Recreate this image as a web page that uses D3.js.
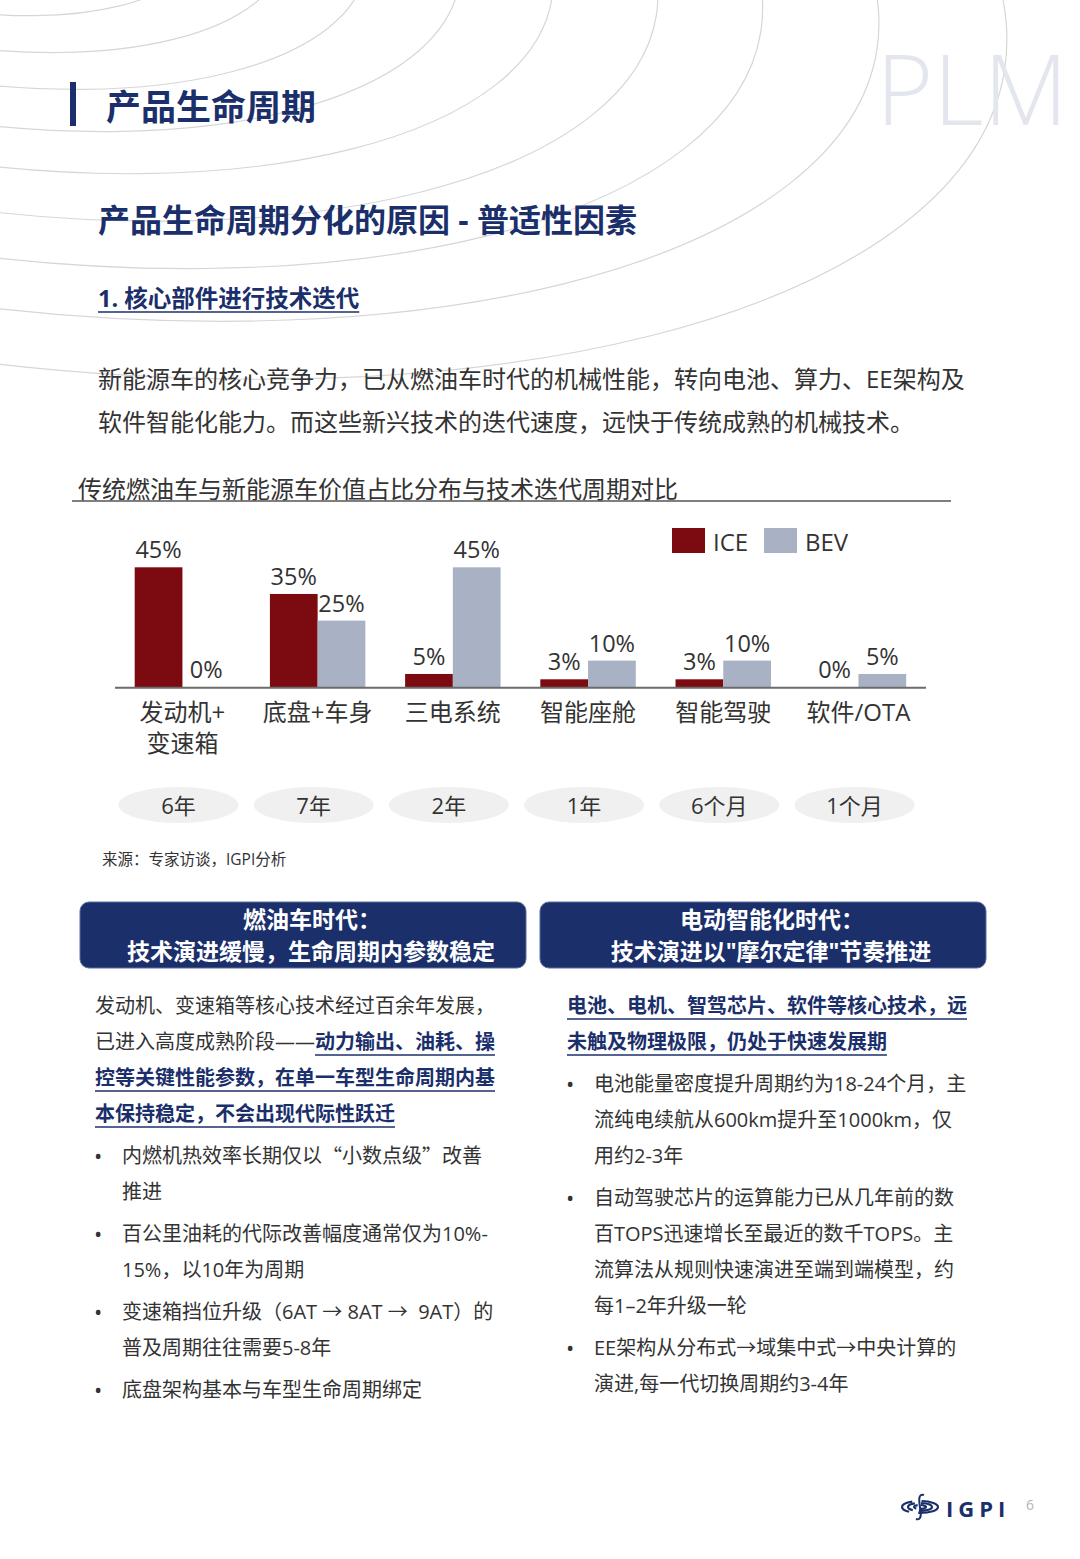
<!DOCTYPE html>
<html>
<head>
<meta charset="utf-8">
<script src="https://cdn.jsdelivr.net/npm/d3@7"></script>
<style>
  body { margin: 0; background: #fff; }
  svg { display: block; font-family: "Open Sans", "Noto Sans CJK SC", sans-serif; }
  text { white-space: pre; }
</style>
</head>
<body>
<svg id="page" width="1080" height="1559"></svg>
<script>
// ---- chart data ----
const categories = ["发动机+\n变速箱", "底盘+车身", "三电系统", "智能座舱", "智能驾驶", "软件/OTA"];
const series = ["ICE", "BEV"];
const iceValues = [45, 35, 5, 3, 3, 0];
const bevValues = [0, 25, 45, 10, 10, 5];
const cycles = ["6年", "7年", "2年", "1年", "6个月", "1个月"];

// ---- page text ----
const leftLines = [
    [["发动机、变速箱等核心技术经过百余年发展，", 0]],
    [["已进入高度成熟阶段——", 0], ["动力输出、油耗、操", 1]],
    [["控等关键性能参数，在单一车型生命周期内基", 1]],
    [["本保持稳定，不会出现代际性跃迁", 1]]
];
const leftBullets = [
    ["内燃机热效率长期仅以“小数点级”改善", "推进"],
    ["百公里油耗的代际改善幅度通常仅为10%-", "15%，以10年为周期"],
    ["变速箱挡位升级（6AT → 8AT →  9AT）的", "普及周期往往需要5-8年"],
    ["底盘架构基本与车型生命周期绑定"]
];
const rightLines = [
    [["电池、电机、智驾芯片、软件等核心技术，远", 1]],
    [["未触及物理极限，仍处于快速发展期", 1]]
];
const rightBullets = [
    ["电池能量密度提升周期约为18-24个月，主", "流纯电续航从600km提升至1000km，仅", "用约2-3年"],
    ["自动驾驶芯片的运算能力已从几年前的数", "百TOPS迅速增长至最近的数千TOPS。主", "流算法从规则快速演进至端到端模型，约", "每1–2年升级一轮"],
    ["EE架构从分布式→域集中式→中央计算的", "演进,每一代切换周期约3-4年"]
];

const navy = "#1b2f6b";
const ink = "#333";
const cjk = "'Noto Sans CJK SC', sans-serif";
const svg = d3.select("#page");

// background arcs
const arcRadii = [70, 105, 140, 175, 215, 255, 300, 345, 395, 450];
const deco = svg.append("g").attr("transform", "translate(-40,-95) rotate(9)");
deco.selectAll("ellipse")
    .data(arcRadii)
    .join("ellipse")
    .attr("cx", 0).attr("cy", 0)
    .attr("rx", d => d * 2.35).attr("ry", d => d)
    .attr("fill", "none")
    .attr("stroke", "#d6d6d6")
    .attr("stroke-width", 1.2);

// PLM watermark
svg.append("text").attr("x", 876).attr("y", 125)
    .attr("font-size", 98).attr("font-weight", 300)
    .attr("fill", "#e3e6ee").text("PLM");

// header
svg.append("rect").attr("x", 70).attr("y", 82).attr("width", 6).attr("height", 44).attr("fill", navy);
svg.append("text").attr("x", 106).attr("y", 106).attr("dominant-baseline", "central")
    .attr("font-size", 35).attr("font-weight", 700).attr("fill", navy).text("产品生命周期");
svg.append("text").attr("x", 98).attr("y", 219).attr("dominant-baseline", "central")
    .attr("font-size", 32).attr("font-weight", 700).attr("fill", navy).text("产品生命周期分化的原因 - 普适性因素");
const sec = svg.append("text").attr("x", 98).attr("y", 298).attr("dominant-baseline", "central")
    .attr("font-size", 23.5).attr("font-weight", 700).attr("fill", navy).text("1. 核心部件进行技术迭代");
svg.append("line").attr("x1", 98).attr("x2", 98 + sec.node().getComputedTextLength())
    .attr("y1", 312).attr("y2", 312).attr("stroke", navy).attr("stroke-width", 1.5);

svg.append("text").attr("x", 98).attr("y", 378).attr("dominant-baseline", "central")
    .attr("font-size", 24).attr("fill", ink).text("新能源车的核心竞争力，已从燃油车时代的机械性能，转向电池、算力、EE架构及");
svg.append("text").attr("x", 98).attr("y", 421).attr("dominant-baseline", "central")
    .attr("font-size", 24).attr("fill", ink).text("软件智能化能力。而这些新兴技术的迭代速度，远快于传统成熟的机械技术。");

// chart title
svg.append("text").attr("x", 78).attr("y", 488).attr("dominant-baseline", "central")
    .attr("font-size", 24).attr("fill", ink).text("传统燃油车与新能源车价值占比分布与技术迭代周期对比");
svg.append("line").attr("x1", 72).attr("x2", 951).attr("y1", 501).attr("y2", 501)
    .attr("stroke", "#555").attr("stroke-width", 1.5);

// ---- bar chart ----
const colors = d3.scaleOrdinal().domain(series).range(["#7b0b10", "#a9b1c4"]);
const x0 = d3.scaleBand().domain(categories).range([134.7, 906.2]).paddingInner(0.294);
const x1 = d3.scaleBand().domain(series).range([0, x0.bandwidth()]);
const y = d3.scaleLinear().domain([0, 45]).range([687.3, 567.3]);

const rows = categories.map((c, i) => ({cat: c, vals: [
    {key: "ICE", v: iceValues[i]}, {key: "BEV", v: bevValues[i]}]}));

const chart = svg.append("g");
const groups = chart.selectAll("g.grp").data(rows).join("g")
    .attr("class", "grp")
    .attr("transform", d => `translate(${x0(d.cat)},0)`);
groups.selectAll("rect").data(d => d.vals).join("rect")
    .attr("x", d => x1(d.key))
    .attr("y", d => y(d.v))
    .attr("width", x1.bandwidth())
    .attr("height", d => y(0) - y(d.v))
    .attr("fill", d => colors(d.key));
groups.selectAll("text.val").data(d => d.vals).join("text")
    .attr("class", "val")
    .attr("x", d => x1(d.key) + x1.bandwidth() / 2)
    .attr("y", d => y(d.v) - 9)
    .attr("text-anchor", "middle")
    .attr("font-size", 23.5).attr("fill", ink)
    .text(d => d.v + "%");

// baseline axis
const axis = d3.axisBottom(x0).tickSize(0).tickFormat("");
chart.append("g").attr("transform", `translate(0,${y(0)})`).call(axis)
    .call(g => g.select(".domain").remove());
chart.append("line").attr("x1", 115).attr("x2", 926).attr("y1", y(0) + 0.5).attr("y2", y(0) + 0.5)
    .attr("stroke", "#6b6b6b").attr("stroke-width", 2);

// category labels
chart.selectAll("text.cat").data(categories).join("text")
    .attr("class", "cat")
    .attr("text-anchor", "middle")
    .attr("font-size", 24).attr("fill", ink)
    .each(function(d) {
        const lines = d.split("\n");
        d3.select(this).selectAll("tspan").data(lines).join("tspan")
            .attr("x", x0(d) + x0.bandwidth() / 2)
            .attr("y", (l, i) => 721 + i * 31)
            .text(l => l);
    });

// legend
const legend = chart.append("g");
const legX = {ICE: 672, BEV: 764};
series.forEach(s => {
    legend.append("rect").attr("x", legX[s]).attr("y", 528).attr("width", 33).attr("height", 25).attr("fill", colors(s));
    legend.append("text").attr("x", legX[s] + 41).attr("y", 541).attr("dominant-baseline", "central")
        .attr("font-size", 24).attr("fill", ink).text(s);
});

// cycle pills
const pills = chart.selectAll("g.pill").data(categories).join("g")
    .attr("class", "pill")
    .attr("transform", (d, i) => `translate(${x0(d) + x0.bandwidth() / 2 - 4},805)`);
pills.append("ellipse").attr("rx", 60).attr("ry", 18).attr("fill", "#f0f0f0");
pills.append("text").attr("text-anchor", "middle").attr("dominant-baseline", "central")
    .attr("font-size", 22).attr("fill", ink)
    .text((d, i) => cycles[i]);

svg.append("text").attr("x", 102).attr("y", 859).attr("dominant-baseline", "central")
    .attr("font-size", 15.5).attr("fill", ink).text("来源：专家访谈，IGPI分析");

// ---- two era boxes ----
const boxes = [
    {x: 80, t1: "燃油车时代：", t2: "技术演进缓慢，生命周期内参数稳定"},
    {x: 540, t1: "电动智能化时代：", t2: "技术演进以\"摩尔定律\"节奏推进"}
];
boxes.forEach(b => {
    svg.append("rect").attr("x", b.x).attr("y", 902).attr("width", 446).attr("height", 66)
        .attr("rx", 9).attr("fill", navy).attr("stroke", "#5d6f9c").attr("stroke-width", 1);
    svg.append("text").attr("x", b.x + 232).attr("y", 919).attr("text-anchor", "middle")
        .attr("dominant-baseline", "central").attr("font-size", 23).attr("font-weight", 700)
        .attr("fill", "#fff").text(b.t1);
    svg.append("text").attr("x", b.x + 231).attr("y", 951).attr("text-anchor", "middle")
        .attr("dominant-baseline", "central").attr("font-size", 23).attr("font-weight", 700)
        .attr("fill", "#fff").text(b.t2);
});

function richLine(x, yc, segs) {
    let cx = x;
    segs.forEach(([txt, bold]) => {
        const t = svg.append("text").attr("x", cx).attr("y", yc).attr("dominant-baseline", "central")
            .attr("font-size", 20).attr("font-weight", bold ? 700 : 400)
            .attr("fill", bold ? navy : ink).text(txt);
        const w = t.node().getComputedTextLength();
        if (bold) {
            svg.append("line").attr("x1", cx).attr("x2", cx + w).attr("y1", yc + 14).attr("y2", yc + 14)
                .attr("stroke", navy).attr("stroke-width", 1.5);
        }
        cx += w;
    });
}
// body line: curly quotes drawn with the CJK font so they take full width
function bodyText(x, yc, str) {
    const t = svg.append("text").attr("x", x).attr("y", yc).attr("dominant-baseline", "central")
        .attr("font-size", 20).attr("fill", ink);
    str.split(/([“”])/).filter(s => s.length).forEach(part => {
        const sp = t.append("tspan").text(part);
        if (part === "“" || part === "”") sp.style("font-family", cjk);
    });
}
function bullets(bx, tx, startY, items) {
    let yc = startY;
    items.forEach(item => {
        svg.append("text").attr("x", bx).attr("y", yc).attr("dominant-baseline", "central")
            .attr("font-size", 22).attr("fill", ink).text("•");
        item.forEach((l, i) => bodyText(tx, yc + i * 36, l));
        yc += item.length * 36 + 6;
    });
}

leftLines.forEach((segs, i) => richLine(95, 1005 + i * 36, segs));
bullets(94, 122, 1155, leftBullets);
rightLines.forEach((segs, i) => richLine(567, 1005 + i * 36, segs));
bullets(566, 594, 1083, rightBullets);

// ---- footer logo ----
const logo = svg.append("g").attr("transform", "translate(920,1507)");
[[18, 6], [12, 4], [6, 2]].forEach(([rx, ry]) => {
    logo.append("ellipse").attr("rx", rx).attr("ry", ry).attr("fill", "none")
        .attr("stroke", navy).attr("stroke-width", 2.2).attr("stroke-dasharray", `${rx * 1.2},${rx * 0.5}`);
});
logo.append("path").attr("d", "M4,-12 C-2,-14 -1,-6 0,0 C1,6 2,14 -4,12")
    .attr("fill", "none").attr("stroke", navy).attr("stroke-width", 2);
svg.append("text").attr("x", 946).attr("y", 1508).attr("dominant-baseline", "central")
    .attr("font-size", 22).attr("font-weight", 700).attr("letter-spacing", 5)
    .attr("fill", navy).text("IGPI");
svg.append("text").attr("x", 1026).attr("y", 1504).attr("dominant-baseline", "central")
    .attr("font-size", 14).attr("fill", "#b5b5b5").text("6");
</script>
</body>
</html>
